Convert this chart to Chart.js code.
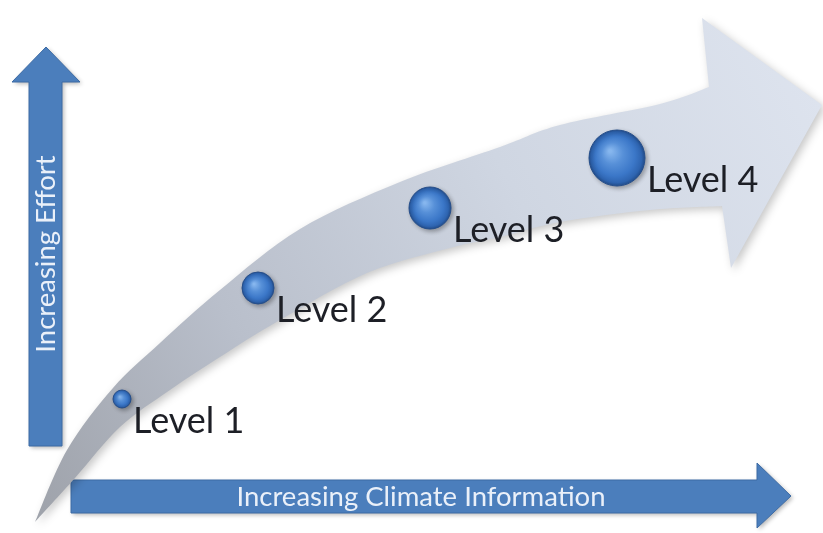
<!DOCTYPE html>
<html>
<head>
<meta charset="utf-8">
<script src="https://cdn.jsdelivr.net/npm/chart.js@4/dist/chart.umd.min.js"></script>
<style>
  html, body { margin: 0; padding: 0; background: #ffffff; }
  #wrap { width: 823px; height: 533px; position: relative; }
</style>
</head>
<body>
<div id="wrap"><canvas id="c"></canvas></div>
<script>
// Maturity levels placed by climate information (x) and effort (y)
const levels = ['Level 1', 'Level 2', 'Level 3', 'Level 4'];
const climateInfo = [122, 258, 430, 617];
const effort = [134, 245, 325, 375];
const markerSize = [9, 16, 21, 28];

const xAxisTitle = 'Increasing Climate Information';
const yAxisTitle = 'Increasing Effort';
const X_MAX = 823;
const Y_MAX = 533;

// Curved progress band (axis units): upper edge, arrow head, lower edge
const bandUpper = [[35,11],[67,83],[113,145],[160,190],[220,243],[300,304],[400,351],[500,386],[560,408],[660,429],[709,446]];
const bandHead  = [[702,515],[822,428],[731,265],[722,327]];
const bandLower = [[722,327],[650,323],[560,311],[500,296],[450,285],[367,260],[280,213],[220,176],[170,143],[120,106],[75,55],[35,11]];

// Axis arrows (axis units)
const effortArrow = [[29,87],[29,451],[12,451],[46,486],[80,451],[62,451],[62,87]];
const infoArrow   = [[71,53],[757,53],[757,70],[791,37],[757,5],[757,20],[71,20]];
const effortTitlePos = [46, 279];
const infoTitlePos = [421, 36];

function toPx(chart, p) {
  return [chart.scales.x.getPixelForValue(p[0]), chart.scales.y.getPixelForValue(p[1])];
}

function smoothThrough(ctx, pts, move) {
  if (move) ctx.moveTo(pts[0][0], pts[0][1]); else ctx.lineTo(pts[0][0], pts[0][1]);
  for (let i = 0; i < pts.length - 1; i++) {
    const p0 = pts[i - 1] || pts[i], p1 = pts[i], p2 = pts[i + 1], p3 = pts[i + 2] || pts[i + 1];
    ctx.bezierCurveTo(
      p1[0] + (p2[0] - p0[0]) / 6, p1[1] + (p2[1] - p0[1]) / 6,
      p2[0] - (p3[0] - p1[0]) / 6, p2[1] - (p3[1] - p1[1]) / 6,
      p2[0], p2[1]);
  }
}

function polygon(ctx, pts) {
  ctx.beginPath();
  pts.forEach((p, i) => i ? ctx.lineTo(p[0], p[1]) : ctx.moveTo(p[0], p[1]));
  ctx.closePath();
}

const diagramPlugin = {
  id: 'diagram',
  beforeDatasetsDraw(chart) {
    const ctx = chart.ctx;
    const px = p => toPx(chart, p);

    // blue axis arrows
    ctx.save();
    ctx.shadowColor = 'rgba(0,0,0,0.28)';
    ctx.shadowBlur = 4;
    ctx.shadowOffsetX = 2;
    ctx.shadowOffsetY = 2;
    ctx.fillStyle = '#4b7ebc';
    ctx.strokeStyle = '#3d6ba4';
    ctx.lineWidth = 1;
    [effortArrow, infoArrow].forEach(a => {
      polygon(ctx, a.map(px));
      ctx.fill();
    });
    ctx.shadowColor = 'transparent';
    [effortArrow, infoArrow].forEach(a => {
      polygon(ctx, a.map(px));
      ctx.stroke();
    });
    ctx.restore();

    // arrow titles
    ctx.save();
    ctx.fillStyle = '#eaf0f9';
    ctx.font = '27.5px Lato, "Open Sans", sans-serif';
    ctx.textAlign = 'center';
    ctx.textBaseline = 'middle';
    const it = px(infoTitlePos);
    ctx.fillText(xAxisTitle, it[0], it[1]);
    const et = px(effortTitlePos);
    ctx.translate(et[0], et[1]);
    ctx.rotate(-Math.PI / 2);
    ctx.fillText(yAxisTitle, 0, 0);
    ctx.restore();

    // curved progress band
    const up = bandUpper.map(px), head = bandHead.map(px), low = bandLower.map(px);
    ctx.save();
    ctx.beginPath();
    smoothThrough(ctx, up, true);
    head.forEach(p => ctx.lineTo(p[0], p[1]));
    smoothThrough(ctx, low, false);
    ctx.closePath();
    const a = px(bandUpper[0]), b = px(bandHead[1]);
    const g = ctx.createLinearGradient(a[0], a[1], b[0], b[1]);
    g.addColorStop(0, '#9ea2aa');
    g.addColorStop(0.3, '#b9bfcb');
    g.addColorStop(0.65, '#cfd6e2');
    g.addColorStop(1, '#dde3ee');
    ctx.shadowColor = 'rgba(0,0,0,0.22)';
    ctx.shadowBlur = 8;
    ctx.shadowOffsetX = 3;
    ctx.shadowOffsetY = 3;
    ctx.fillStyle = g;
    ctx.fill();
    ctx.restore();
  },
  beforeDatasetDraw(chart) {
    const ctx = chart.ctx;
    ctx.save();
    ctx.shadowColor = 'rgba(0,0,0,0.3)';
    ctx.shadowBlur = 4;
    ctx.shadowOffsetX = 2;
    ctx.shadowOffsetY = 2;
  },
  afterDatasetDraw(chart) {
    chart.ctx.restore();
  },
  afterDatasetsDraw(chart) {
    const ctx = chart.ctx;
    const meta = chart.getDatasetMeta(0);
    ctx.save();
    ctx.fillStyle = '#1d1f26';
    ctx.font = '36px Lato, "Open Sans", sans-serif';
    ctx.textBaseline = 'alphabetic';
    ctx.textAlign = 'left';
    meta.data.forEach((el, i) => {
      const r = markerSize[i];
      ctx.fillText(levels[i], el.x + r + 2, el.y + 34);
    });
    ctx.restore();
  }
};

const points = levels.map((_, i) => ({ x: climateInfo[i], y: effort[i], r: markerSize[i] }));

new Chart(document.getElementById('c'), {
  type: 'bubble',
  data: {
    labels: levels,
    datasets: [{
      data: points,
      clip: false,
      borderColor: '#264f8c',
      borderWidth: 1,
      backgroundColor: (c) => {
        const ch = c.chart;
        if (c.type !== 'data' || !ch.chartArea || !ch.scales.x) return '#3b76c6';
        const x = ch.scales.x.getPixelForValue(c.raw.x);
        const y = ch.scales.y.getPixelForValue(c.raw.y);
        const r = c.raw.r;
        const g = ch.ctx.createRadialGradient(x - r * 0.25, y - r * 0.25, r * 0.05, x, y, r);
        g.addColorStop(0, '#86b6ee');
        g.addColorStop(0.35, '#5790d8');
        g.addColorStop(0.7, '#3b77c8');
        g.addColorStop(0.9, '#2e64b0');
        g.addColorStop(1, '#234f8e');
        return g;
      }
    }]
  },
  options: {
    responsive: true,
    maintainAspectRatio: false,
    devicePixelRatio: 1,
    animation: false,
    events: [],
    layout: { padding: 0, autoPadding: false },
    plugins: { legend: { display: false }, tooltip: { enabled: false } },
    scales: {
      x: { type: 'linear', min: 0, max: X_MAX, display: false },
      y: { type: 'linear', min: 0, max: Y_MAX, display: false }
    }
  },
  plugins: [diagramPlugin]
});
</script>
</body>
</html>
